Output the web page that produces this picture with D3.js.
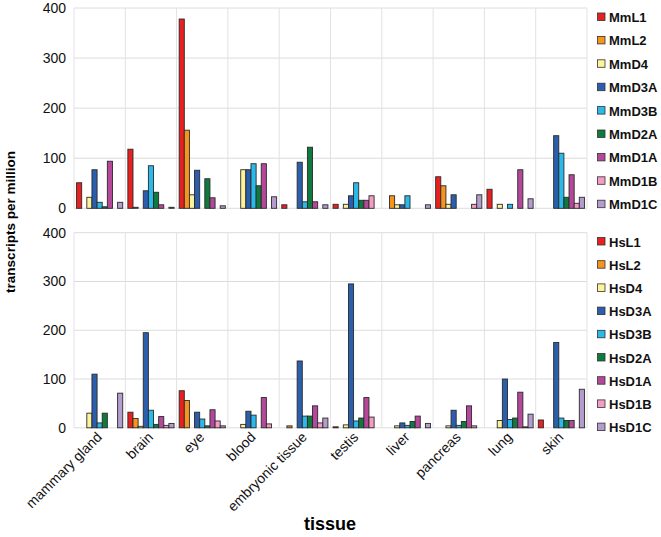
<!DOCTYPE html>
<html><head><meta charset="utf-8">
<script src="https://cdn.jsdelivr.net/npm/d3@7"></script>
<style>body{margin:0;background:#fff}svg{font-family:"Liberation Sans",Arial,sans-serif}</style>
</head><body><svg id="c" width="661" height="537"></svg>
<script>
const tissues = ["mammary gland","brain","eye","blood","embryonic tissue","testis","liver","pancreas","lung","skin"];
const mouseSeries = ["MmL1","MmL2","MmD4","MmD3A","MmD3B","MmD2A","MmD1A","MmD1B","MmD1C"];
const humanSeries = ["HsL1","HsL2","HsD4","HsD3A","HsD3B","HsD2A","HsD1A","HsD1B","HsD1C"];
const colors = ["#e8201f","#f7941d","#fcf39a","#2b5fad","#2bb9ea","#0e7a3e","#b5489a","#f59cc4","#b49ccc"];
const yTicks = [0,100,200,300,400];

const MmL1  = [51,118,378,0,7,8,0,63,38,0];
const MmL2  = [0,2,156,0,0,0,25,45,0,0];
const MmD4  = [22,0,27,77,0,8,7,8,8,0];
const MmD3A = [77,35,76,77,92,25,7,27,0,145];
const MmD3B = [12,85,0,89,13,51,25,0,8,110];
const MmD2A = [3,32,59,45,122,16,0,0,0,22];
const MmD1A = [94,7,21,89,13,16,0,0,77,67];
const MmD1B = [0,0,0,0,0,25,0,8,0,10];
const MmD1C = [12,2,5,23,7,0,7,27,19,22];

const HsL1  = [0,32,76,0,0,2,0,0,0,16];
const HsL2  = [0,19,56,0,4,0,0,0,0,0];
const HsD4  = [30,3,0,7,0,6,4,4,15,0];
const HsD3A = [110,195,32,34,137,295,10,36,100,175];
const HsD3B = [10,36,18,26,24,14,5,5,17,20];
const HsD2A = [30,7,4,0,24,20,13,13,20,15];
const HsD1A = [0,23,37,62,45,62,24,45,73,15];
const HsD1B = [0,5,14,8,10,22,0,4,2,0];
const HsD1C = [71,9,4,0,20,0,9,0,28,79];

const mouseVals = [MmL1,MmL2,MmD4,MmD3A,MmD3B,MmD2A,MmD1A,MmD1B,MmD1C];
const humanVals = [HsL1,HsL2,HsD4,HsD3A,HsD3B,HsD2A,HsD1A,HsD1B,HsD1C];

const svg = d3.select("#c");
const x0 = d3.scaleBand().domain(tissues).range([74,587]).paddingInner(0.1).paddingOuter(0.05);
const x1 = d3.scaleBand().domain(d3.range(9)).range([0,x0.bandwidth()]);

function panel(series, vals, top, bottom, legTop, legStep){
  const y = d3.scaleLinear().domain([0,400]).range([bottom, top]);
  const g = svg.append("g");
  // horizontal grid
  g.selectAll(".hg").data(yTicks).join("line")
    .attr("x1",74).attr("x2",587).attr("y1",d=>y(d)).attr("y2",d=>y(d))
    .attr("stroke","#dcdcdc").attr("stroke-width",1);
  // vertical grid
  const bounds = tissues.map(t=>x0(t)-x0.step()*x0.paddingInner()/2).concat([587]);
  g.selectAll(".vg").data(bounds).join("line")
    .attr("x1",d=>d).attr("x2",d=>d).attr("y1",top).attr("y2",bottom)
    .attr("stroke","#e2e2e2").attr("stroke-width",1);
  // y axis labels
  const ax = g.append("g").attr("transform",`translate(74,0)`)
    .call(d3.axisLeft(y).tickValues(yTicks).tickSize(0).tickPadding(8));
  ax.select(".domain").remove();
  ax.selectAll("text").attr("font-size",14).attr("fill","#111").style("font-family","Liberation Sans, Arial, sans-serif");
  // bars
  series.forEach((s,si)=>{
    g.append("g").selectAll("rect").data(tissues.map((t,i)=>({t,v:vals[si][i]})).filter(d=>d.v>0)).join("rect")
      .attr("x",d=>x0(d.t)+x1(si)).attr("width",x1.bandwidth())
      .attr("y",d=>y(d.v)).attr("height",d=>y(0)-y(d.v))
      .attr("fill",colors[si]).attr("stroke","#2a2a2a").attr("stroke-width",0.9);
  });
  // legend
  const lg = g.append("g");
  series.forEach((s,si)=>{
    const yy = legTop + si*legStep;
    lg.append("rect").attr("x",597.5).attr("y",yy-4).attr("width",7.5).attr("height",7.5)
      .attr("fill",colors[si]).attr("stroke","#333").attr("stroke-width",0.8);
    lg.append("text").attr("x",609).attr("y",yy+5).text(s)
      .attr("font-size",13).attr("font-weight","bold").attr("fill","#111");
  });
  return y;
}

panel(mouseSeries, mouseVals, 8, 208.3, 17, 23.4);
const yb = panel(humanSeries, humanVals, 232.7, 427.8, 241.5, 23.2);

// x tick labels
svg.append("g").selectAll("text").data(tissues).join("text")
  .attr("transform",d=>`translate(${x0(d)+x0.bandwidth()/2+3},${438}) rotate(-45)`)
  .attr("text-anchor","end").attr("font-size",14).attr("fill","#111").text(d=>d);

// axis titles
svg.append("text").attr("transform","translate(15,222) rotate(-90)")
  .attr("text-anchor","middle").attr("font-size",13.5).attr("font-weight","bold").text("transcripts per million");
svg.append("text").attr("x",330).attr("y",530).attr("text-anchor","middle")
  .attr("font-size",18).attr("font-weight","bold").text("tissue");
</script></body></html>
